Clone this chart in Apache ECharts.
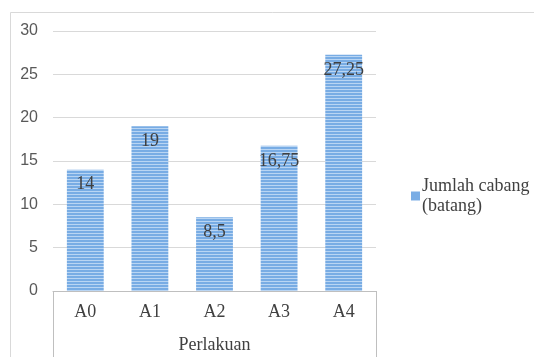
<!DOCTYPE html>
<html>
<head>
<meta charset="utf-8">
<script src="https://cdn.jsdelivr.net/npm/echarts@6/dist/echarts.min.js"></script>
<style>
  html, body { margin: 0; padding: 0; background: #fff; }
  #chart { width: 534px; height: 357px; }
</style>
</head>
<body>
<div id="chart"></div>
<script>
// Data
const categories = ['A0', 'A1', 'A2', 'A3', 'A4'];
const jumlahCabang = [14, 19, 8.5, 16.75, 27.25];
const seriesName = 'Jumlah cabang\n(batang)';
const axisTitle = 'Perlakuan';
const yTicks = { min: 0, max: 30, interval: 5 };

// Striped fill for the bars
function stripePattern() {
  const c = document.createElement('canvas');
  c.width = 4; c.height = 3;
  const g = c.getContext('2d');
  g.fillStyle = '#78ace4';
  g.fillRect(0, 0, 4, 3);
  g.fillStyle = '#b9d5f3';
  g.fillRect(0, 2, 4, 1);
  return c;
}

const GRID = { left: 53, right: 158, top: 31, bottom: 66 };
const W = 534, H = 357;
const serif = '"Liberation Serif", "DejaVu Serif", serif';
const sans = '"Liberation Sans", Arial, sans-serif';

const chart = echarts.init(document.getElementById('chart'), null, { renderer: 'canvas' });
chart.setOption({
  animation: false,
  backgroundColor: '#ffffff',
  grid: Object.assign({ containLabel: false, outerBoundsMode: 'none' }, GRID),
  legend: {
    data: [{ name: seriesName, itemStyle: { color: '#7aade5' } }],
    left: 406,
    top: 171,
    orient: 'vertical',
    itemWidth: 9,
    itemHeight: 9,
    icon: 'rect',
    itemGap: 4,
    textStyle: { fontFamily: serif, fontSize: 18, color: '#404040', lineHeight: 20, padding: [0, 0, 0, -3] }
  },
  xAxis: {
    type: 'category',
    data: categories,
    name: axisTitle,
    nameLocation: 'middle',
    nameGap: 45,
    nameTextStyle: { fontFamily: serif, fontSize: 18, color: '#404040' },
    axisLine: { show: true, lineStyle: { color: '#bfbfbf', width: 1 } },
    axisTick: { show: false },
    axisLabel: { fontFamily: serif, fontSize: 18, color: '#404040', margin: 12 },
    splitLine: { show: false }
  },
  yAxis: {
    type: 'value',
    min: yTicks.min,
    max: yTicks.max,
    interval: yTicks.interval,
    axisLine: { show: false },
    axisTick: { show: false },
    axisLabel: { fontFamily: sans, fontSize: 16, color: '#595959', margin: 15 },
    splitLine: { lineStyle: { color: '#d9d9d9', width: 1 } }
  },
  series: [{
    name: seriesName,
    type: 'bar',
    data: jumlahCabang,
    barWidth: '57%',
    itemStyle: { color: { image: stripePattern(), repeat: 'repeat' } },
    label: {
      show: true,
      position: 'insideTop',
      distance: 6,
      fontFamily: serif,
      fontSize: 18,
      color: '#404040',
      formatter: p => String(p.value).replace('.', ',')
    }
  }],
  graphic: [
    // chart frame
    { type: 'line', shape: { x1: 10.5, y1: 12.5, x2: W, y2: 12.5 }, style: { stroke: '#d9d9d9', lineWidth: 1 } },
    { type: 'line', shape: { x1: 10.5, y1: 12.5, x2: 10.5, y2: H }, style: { stroke: '#d9d9d9', lineWidth: 1 } },
    // category box edges
    { type: 'line', shape: { x1: GRID.left + 0.5, y1: H - GRID.bottom, x2: GRID.left + 0.5, y2: H }, style: { stroke: '#bfbfbf', lineWidth: 1 } },
    { type: 'line', shape: { x1: W - GRID.right + 0.5, y1: H - GRID.bottom, x2: W - GRID.right + 0.5, y2: H }, style: { stroke: '#bfbfbf', lineWidth: 1 } }
  ]
});
</script>
</body>
</html>
